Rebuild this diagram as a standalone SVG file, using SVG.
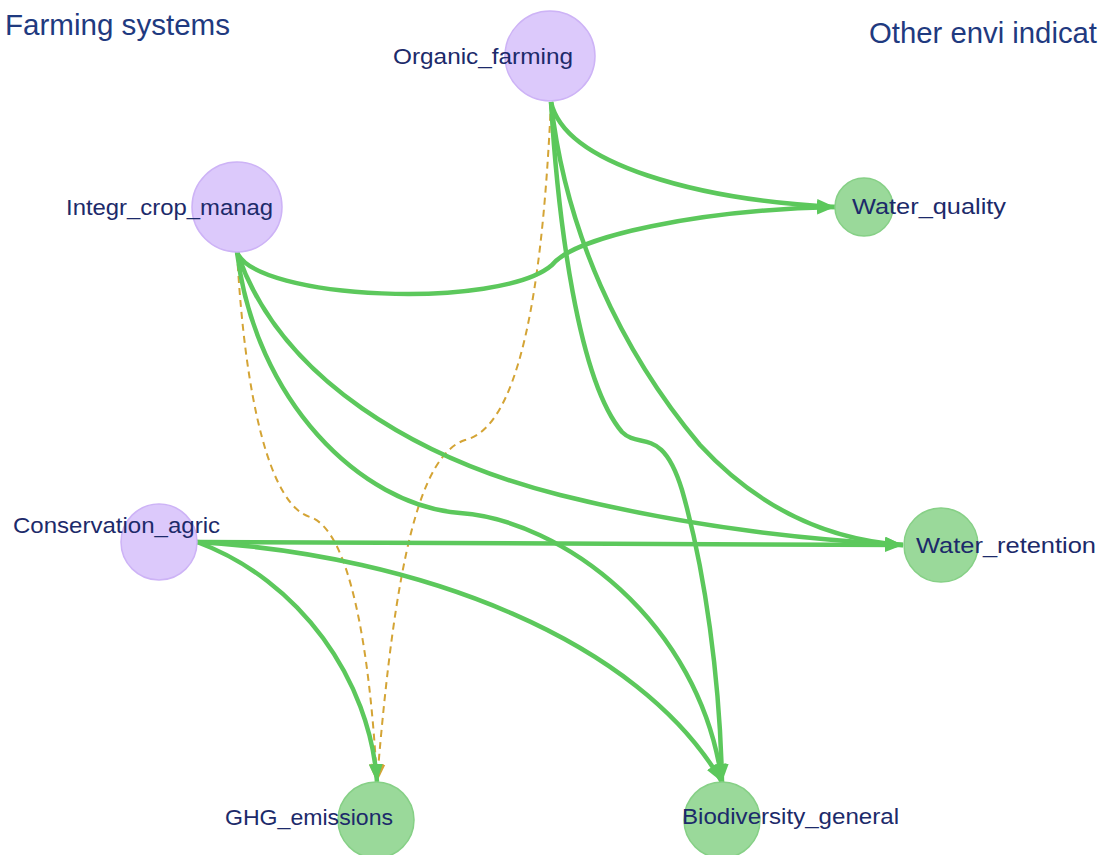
<svg xmlns="http://www.w3.org/2000/svg" width="1099" height="855" viewBox="0 0 1099 855">
<style>
.title{font-family:"Liberation Sans",Arial,sans-serif;font-size:29px;fill:#1f3a80}
.lbl{font-family:"Liberation Sans",Arial,sans-serif;font-size:22px;fill:#1c2a6a}
.src{fill:#dcc9fb;stroke:#cdb3f6;stroke-width:1.5}
.dst{fill:#9ad99a;stroke:#86d086;stroke-width:1.5}
.e{fill:none;stroke:#5cc85c;stroke-width:4.5}
.d{fill:none;stroke:#d4a435;stroke-width:2;stroke-dasharray:7 5}
</style>
<defs>
<marker id="ag" markerUnits="userSpaceOnUse" markerWidth="20" markerHeight="16" refX="18" refY="8" orient="auto">
<path d="M0,1 L18,8 L0,15 z" fill="#5cc85c"/>
</marker>
<marker id="ao" markerUnits="userSpaceOnUse" markerWidth="20" markerHeight="16" refX="18" refY="8" orient="auto">
<path d="M0,1 L18,8 L0,15 z" fill="#d4a435"/>
</marker>
</defs>
<rect width="1099" height="855" fill="#ffffff"/>
<text class="title" x="5" y="35" textLength="225" lengthAdjust="spacingAndGlyphs">Farming systems</text>
<text class="title" x="869" y="43" textLength="228" lengthAdjust="spacingAndGlyphs">Other envi indicat</text>
<g id="connectors">
<path class="d" d="M237,252 C 245,400 270,505 310,517 C 350,530 370,650 377,782" marker-end="url(#ao)"/>
<path class="d" d="M551,102 C 545,230 530,425 465,440 C 420,455 395,560 377,782" marker-end="url(#ao)"/>
<path class="e" d="M551,102 C 565,165 700,200 835,207" marker-end="url(#ag)"/>
<path class="e" d="M237,252 C 255,300 500,310 552,265 C 575,236 700,210 835,207" marker-end="url(#ag)"/>
<path class="e" d="M551,102 C 558,220 578,380 622,432 C 640,450 662,425 682,490 C 705,570 720,680 722,782" marker-end="url(#ag)"/>
<path class="e" d="M551,102 C 565,230 620,350 700,445 C 760,510 830,540 903,545" marker-end="url(#ag)"/>
<path class="e" d="M237,252 C 280,380 420,460 560,495 C 700,530 820,540 903,545" marker-end="url(#ag)"/>
<path class="e" d="M237,252 C 255,400 360,505 460,513 C 560,520 700,620 722,782" marker-end="url(#ag)"/>
<path class="e" d="M197,542 L 903,545" marker-end="url(#ag)"/>
<path class="e" d="M197,542 C 420,555 640,640 722,782" marker-end="url(#ag)"/>
<path class="e" d="M197,542 C 300,580 370,680 377,782" marker-end="url(#ag)"/>
</g>
<g id="organic_farming">
<circle class="src" cx="550" cy="56" r="45"/>
<text class="lbl" x="393" y="64" textLength="180" lengthAdjust="spacingAndGlyphs">Organic_farming</text>
</g>
<g id="integr_crop_manag">
<circle class="src" cx="237" cy="207" r="45"/>
<text class="lbl" x="66" y="215" textLength="207" lengthAdjust="spacingAndGlyphs">Integr_crop_manag</text>
</g>
<g id="conservation_agric">
<circle class="src" cx="159" cy="542" r="38"/>
<text class="lbl" x="13" y="533" textLength="207" lengthAdjust="spacingAndGlyphs">Conservation_agric</text>
</g>
<g id="water_quality">
<circle class="dst" cx="864" cy="207" r="29"/>
<text class="lbl" x="852" y="214" textLength="154" lengthAdjust="spacingAndGlyphs">Water_quality</text>
</g>
<g id="water_retention">
<circle class="dst" cx="941" cy="545" r="37"/>
<text class="lbl" x="916" y="553" textLength="180" lengthAdjust="spacingAndGlyphs">Water_retention</text>
</g>
<g id="ghg_emissions">
<circle class="dst" cx="376" cy="820" r="38"/>
<text class="lbl" x="225" y="825" textLength="168" lengthAdjust="spacingAndGlyphs">GHG_emissions</text>
</g>
<g id="biodiversity_general">
<circle class="dst" cx="722" cy="820" r="38"/>
<text class="lbl" x="682" y="824" textLength="217" lengthAdjust="spacingAndGlyphs">Biodiversity_general</text>
</g>
</svg>
